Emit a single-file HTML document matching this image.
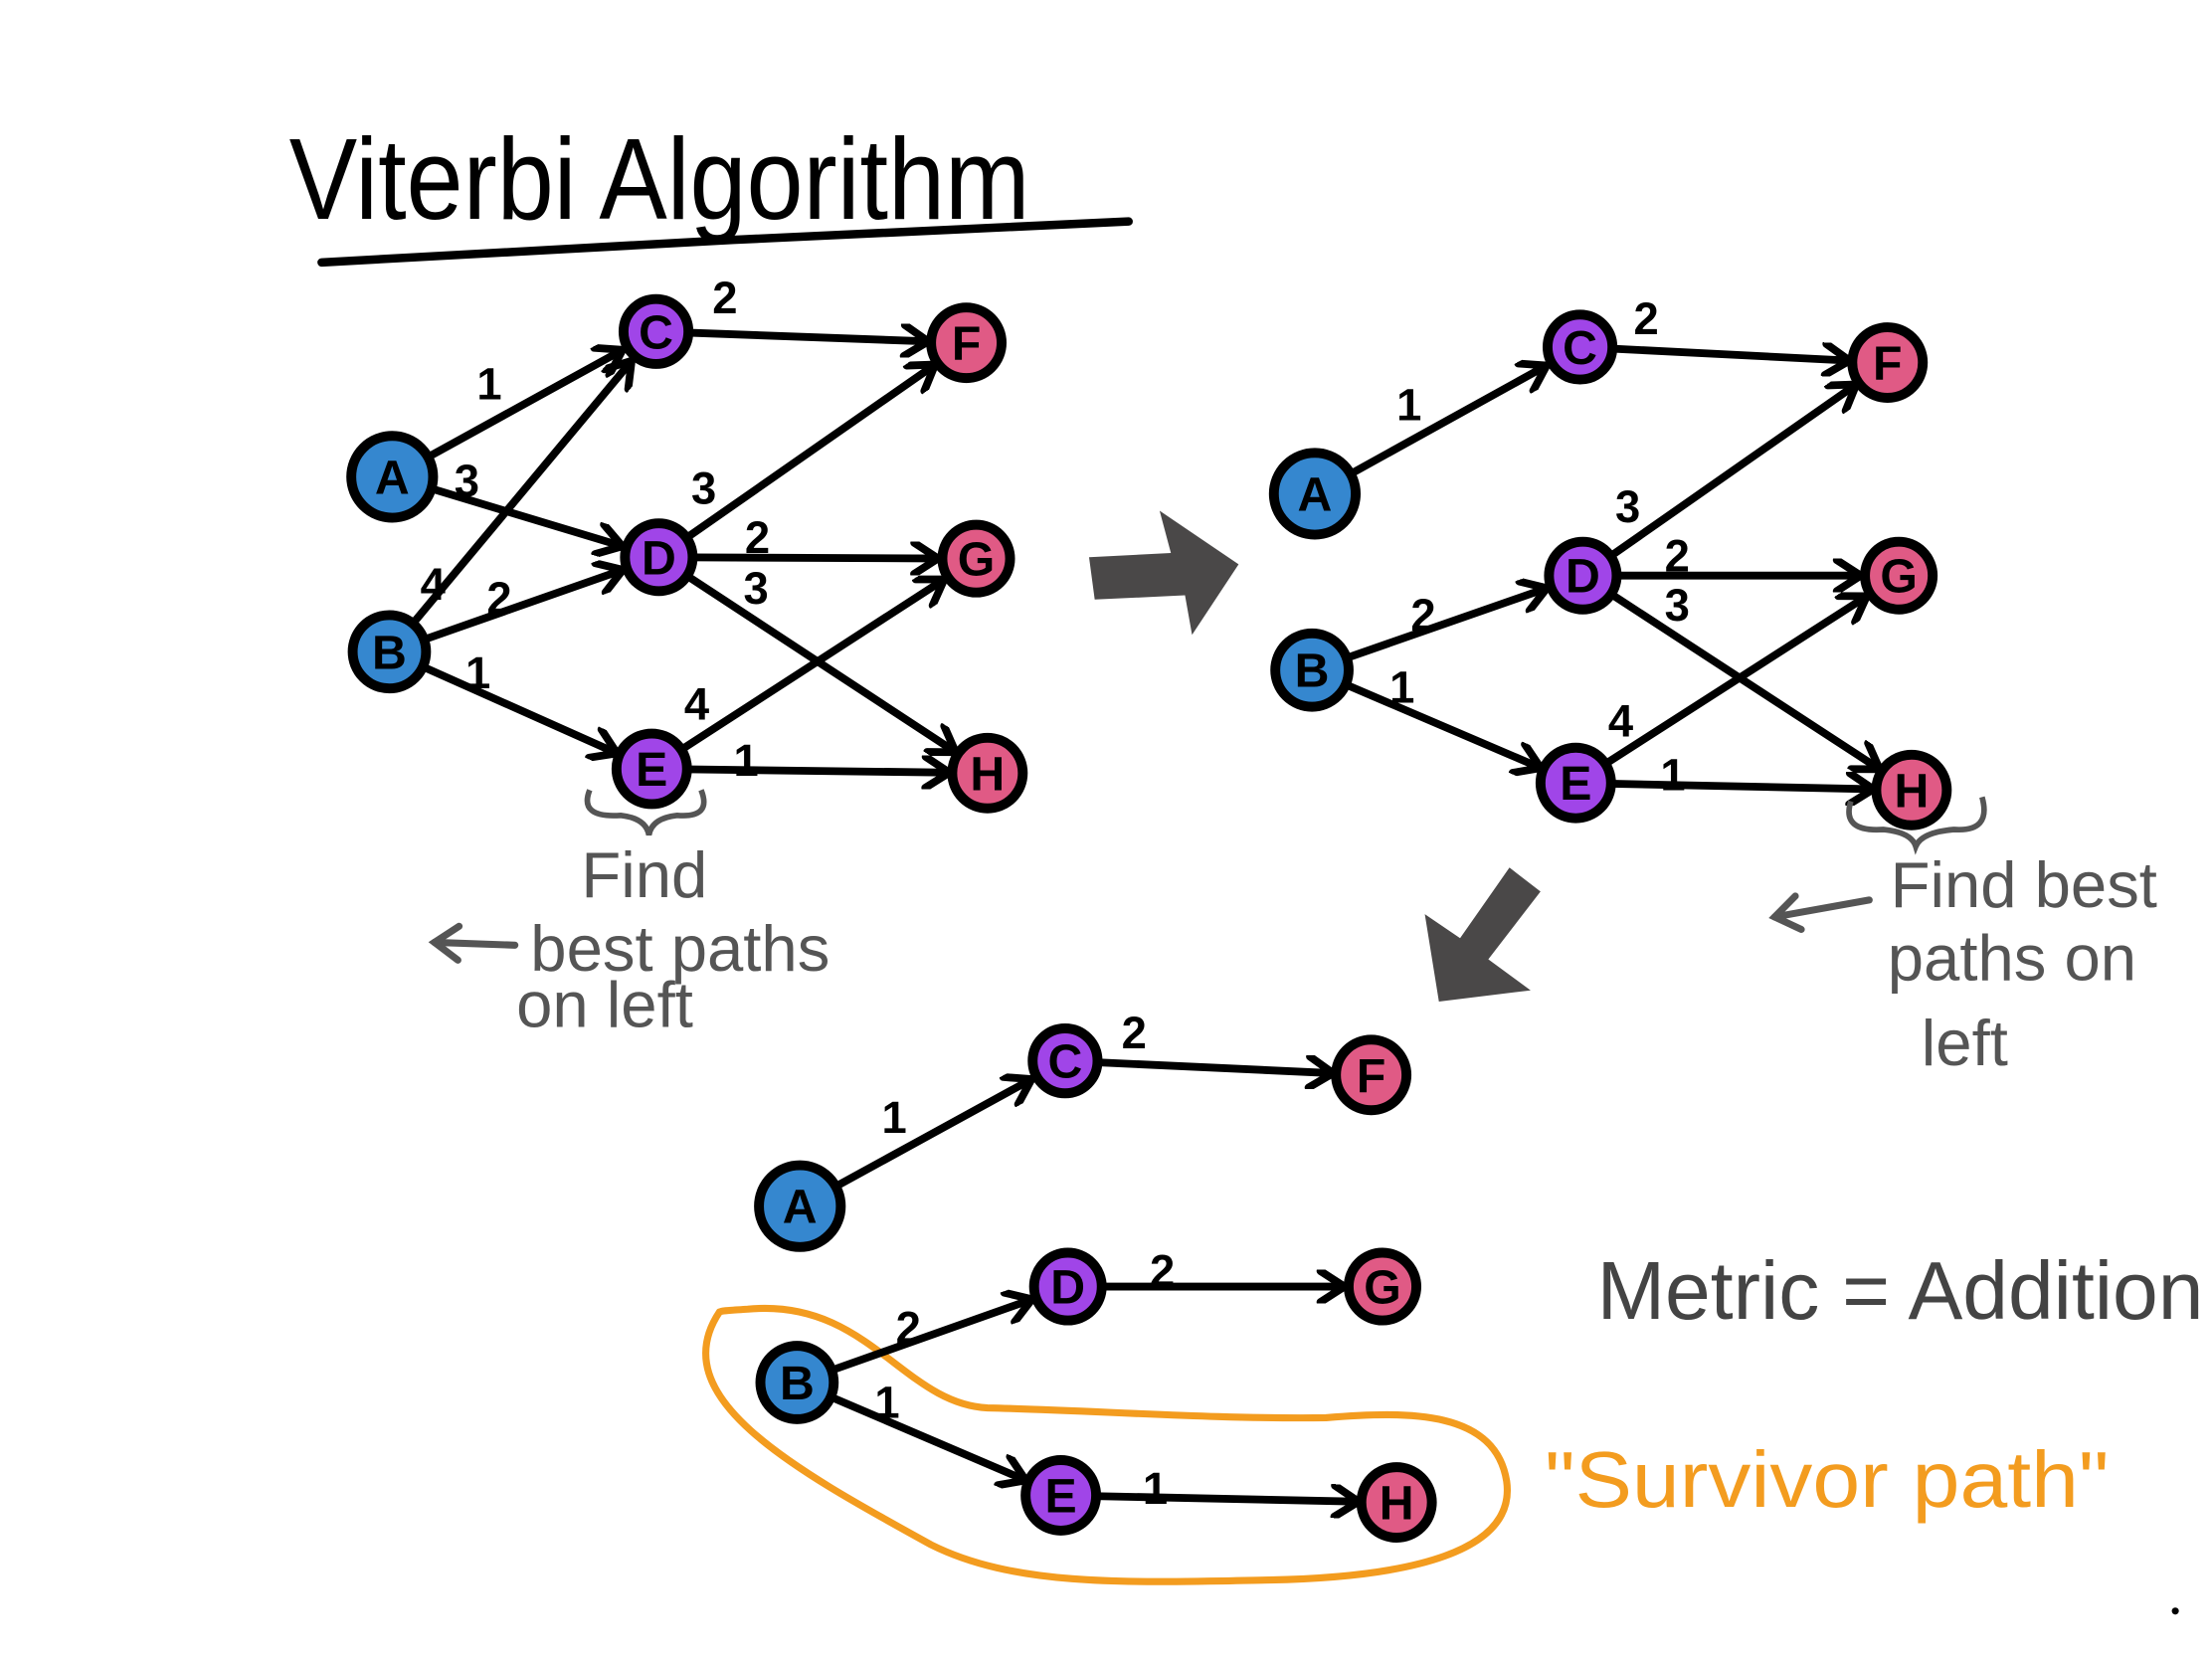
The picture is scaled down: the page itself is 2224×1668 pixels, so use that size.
<!DOCTYPE html>
<html><head><meta charset="utf-8"><style>
html,body{margin:0;padding:0;background:#fff;}
svg{display:block}
</style></head><body>
<svg width="2224" height="1668" viewBox="0 0 1568 1176" preserveAspectRatio="none" xmlns="http://www.w3.org/2000/svg">
<defs>
<marker id="ar" viewBox="0 0 60 24" markerWidth="60" markerHeight="24" refX="56" refY="12" orient="auto" markerUnits="userSpaceOnUse">
<path d="M12,1 L29,12 L12,23" fill="none" stroke="#000" stroke-width="5.5" stroke-linecap="round" stroke-linejoin="round"/>
</marker>
<marker id="ga" viewBox="0 0 30 30" markerWidth="30" markerHeight="30" refX="20" refY="15" orient="auto" markerUnits="userSpaceOnUse">
<path d="M3,3 L20,15 L3,27" fill="none" stroke="#555" stroke-width="5" stroke-linecap="round"/>
</marker>
</defs>
<style>
.e{stroke:#000;stroke-width:5.5;stroke-linecap:round;fill:none;marker-end:url(#ar)}
.w{font-family:"Liberation Sans",sans-serif;font-weight:bold;font-size:32px;fill:#000}
.n{stroke:#000;stroke-width:7}
.l{font-family:"Liberation Sans",sans-serif;font-weight:bold;font-size:34px;fill:#000;text-anchor:middle}
.g{font-family:"Liberation Sans",sans-serif;font-size:46px;fill:#555}
</style>

<text x="205" y="155" font-family="Liberation Sans, sans-serif" font-size="82" fill="#000" textLength="525" lengthAdjust="spacingAndGlyphs">Viterbi Algorithm</text>
<path d="M228,186 L520,170 L800,157" stroke="#000" stroke-width="6" fill="none" stroke-linecap="round"/>

<g>
<line class="e" x1="278" y1="338" x2="465" y2="235"/>
<line class="e" x1="278" y1="338" x2="467" y2="395"/>
<line class="e" x1="276" y1="462" x2="465" y2="235"/>
<line class="e" x1="276" y1="462" x2="467" y2="395"/>
<line class="e" x1="276" y1="462" x2="462" y2="545"/>
<line class="e" x1="465" y1="235" x2="685" y2="243"/>
<line class="e" x1="467" y1="395" x2="685" y2="243"/>
<line class="e" x1="467" y1="395" x2="692" y2="396"/>
<line class="e" x1="467" y1="395" x2="700" y2="548"/>
<line class="e" x1="462" y1="545" x2="692" y2="396"/>
<line class="e" x1="462" y1="545" x2="700" y2="548"/>
<circle class="n" cx="278" cy="338" r="29" fill="#3587cf"/><text class="l" x="278" y="350">A</text>
<circle class="n" cx="276" cy="462" r="26" fill="#3587cf"/><text class="l" x="276" y="474">B</text>
<circle class="n" cx="465" cy="235" r="23" fill="#a045e8"/><text class="l" x="465" y="247">C</text>
<circle class="n" cx="467" cy="395" r="24" fill="#a045e8"/><text class="l" x="467" y="407">D</text>
<circle class="n" cx="462" cy="545" r="25" fill="#a045e8"/><text class="l" x="462" y="557">E</text>
<circle class="n" cx="685" cy="243" r="25" fill="#e05a85"/><text class="l" x="685" y="255">F</text>
<circle class="n" cx="692" cy="396" r="24" fill="#e05a85"/><text class="l" x="692" y="408">G</text>
<circle class="n" cx="700" cy="548" r="25" fill="#e05a85"/><text class="l" x="700" y="560">H</text>
<text class="w" x="338" y="283">1</text><text class="w" x="322" y="352">3</text>
<text class="w" x="505" y="222">2</text><text class="w" x="298" y="425">4</text>
<text class="w" x="345" y="435">2</text><text class="w" x="330" y="488">1</text>
<text class="w" x="490" y="357">3</text><text class="w" x="528" y="392">2</text>
<text class="w" x="527" y="428">3</text><text class="w" x="485" y="510">4</text>
<text class="w" x="520" y="550">1</text>
<path d="M418,560 Q410,580 440,578 Q458,580 460,592 Q462,580 480,578 Q505,580 497,560" stroke="#555" stroke-width="4" fill="none"/>
</g>

<g>
<line class="e" x1="932" y1="350" x2="1120" y2="246"/>
<line class="e" x1="930" y1="475" x2="1122" y2="408"/>
<line class="e" x1="930" y1="475" x2="1117" y2="555"/>
<line class="e" x1="1120" y1="246" x2="1338" y2="257"/>
<line class="e" x1="1122" y1="408" x2="1338" y2="257"/>
<line class="e" x1="1122" y1="408" x2="1346" y2="408"/>
<line class="e" x1="1122" y1="408" x2="1355" y2="560"/>
<line class="e" x1="1117" y1="555" x2="1346" y2="408"/>
<line class="e" x1="1117" y1="555" x2="1355" y2="560"/>
<circle class="n" cx="932" cy="350" r="29" fill="#3587cf"/><text class="l" x="932" y="362">A</text>
<circle class="n" cx="930" cy="475" r="26" fill="#3587cf"/><text class="l" x="930" y="487">B</text>
<circle class="n" cx="1120" cy="246" r="23" fill="#a045e8"/><text class="l" x="1120" y="258">C</text>
<circle class="n" cx="1122" cy="408" r="24" fill="#a045e8"/><text class="l" x="1122" y="420">D</text>
<circle class="n" cx="1117" cy="555" r="25" fill="#a045e8"/><text class="l" x="1117" y="567">E</text>
<circle class="n" cx="1338" cy="257" r="25" fill="#e05a85"/><text class="l" x="1338" y="269">F</text>
<circle class="n" cx="1346" cy="408" r="24" fill="#e05a85"/><text class="l" x="1346" y="420">G</text>
<circle class="n" cx="1355" cy="560" r="25" fill="#e05a85"/><text class="l" x="1355" y="572">H</text>
<text class="w" x="990" y="298">1</text><text class="w" x="1158" y="237">2</text>
<text class="w" x="1145" y="370">3</text><text class="w" x="1000" y="447">2</text>
<text class="w" x="985" y="498">1</text><text class="w" x="1180" y="405">2</text>
<text class="w" x="1180" y="440">3</text><text class="w" x="1140" y="522">4</text>
<text class="w" x="1177" y="560">1</text>
<path d="M1312,568 Q1305,590 1335,588 Q1355,590 1358,600 Q1362,590 1385,588 Q1412,590 1405,565" stroke="#555" stroke-width="4" fill="none"/>
</g>

<g>
<path d="M510,930 C470,990 560,1040 660,1095 C720,1125 800,1122 900,1120 C1000,1118 1075,1100 1068,1050 C1060,1000 1000,1000 940,1005 C860,1006 780,1000 700,998 C640,995 615,920 530,928 C515,929 512,929 510,930 Z" stroke="#f39c1f" stroke-width="5" fill="none"/>
<line class="e" x1="567" y1="855" x2="755" y2="752"/>
<line class="e" x1="755" y1="752" x2="972" y2="762"/>
<line class="e" x1="565" y1="980" x2="757" y2="912"/>
<line class="e" x1="757" y1="912" x2="980" y2="912"/>
<line class="e" x1="565" y1="980" x2="752" y2="1060"/>
<line class="e" x1="752" y1="1060" x2="990" y2="1065"/>
<circle class="n" cx="567" cy="855" r="29" fill="#3587cf"/><text class="l" x="567" y="867">A</text>
<circle class="n" cx="565" cy="980" r="26" fill="#3587cf"/><text class="l" x="565" y="992">B</text>
<circle class="n" cx="755" cy="752" r="23" fill="#a045e8"/><text class="l" x="755" y="764">C</text>
<circle class="n" cx="757" cy="912" r="24" fill="#a045e8"/><text class="l" x="757" y="924">D</text>
<circle class="n" cx="752" cy="1060" r="25" fill="#a045e8"/><text class="l" x="752" y="1072">E</text>
<circle class="n" cx="972" cy="762" r="25" fill="#e05a85"/><text class="l" x="972" y="774">F</text>
<circle class="n" cx="980" cy="912" r="24" fill="#e05a85"/><text class="l" x="980" y="924">G</text>
<circle class="n" cx="990" cy="1065" r="25" fill="#e05a85"/><text class="l" x="990" y="1077">H</text>
<text class="w" x="625" y="803">1</text><text class="w" x="795" y="743">2</text>
<text class="w" x="635" y="952">2</text><text class="w" x="815" y="912">2</text>
<text class="w" x="620" y="1005">1</text><text class="w" x="810" y="1066">1</text>
</g>

<path d="M772,395 L830,392 L822,362 L878,400 L845,450 L840,422 L776,425 Z" fill="#4a4848"/>
<path d="M1070,615 L1092,632 L1055,680 L1085,702 L1020,710 L1010,648 L1035,665 Z" fill="#4a4848"/>

<text class="g" x="412" y="636">Find</text>
<text class="g" x="376" y="688">best paths</text>
<text class="g" x="366" y="728">on left</text>
<line x1="365" y1="670" x2="308" y2="668" stroke="#555" stroke-width="5" marker-end="url(#ga)" stroke-linecap="round"/>
<text class="g" x="1340" y="643">Find best</text>
<text class="g" x="1338" y="695">paths on</text>
<text class="g" x="1362" y="755">left</text>
<line x1="1325" y1="638" x2="1258" y2="650" stroke="#555" stroke-width="5" marker-end="url(#ga)" stroke-linecap="round"/>

<text x="1132" y="935" font-family="Liberation Sans, sans-serif" font-size="58" fill="#444" textLength="430" lengthAdjust="spacingAndGlyphs">Metric = Addition</text>
<text x="1095" y="1068" font-family="Liberation Sans, sans-serif" font-size="56" fill="#f39c1f" textLength="400" lengthAdjust="spacingAndGlyphs">"Survivor path"</text>
<circle cx="1542" cy="1142" r="2.5" fill="#000"/>
</svg>
</body></html>
